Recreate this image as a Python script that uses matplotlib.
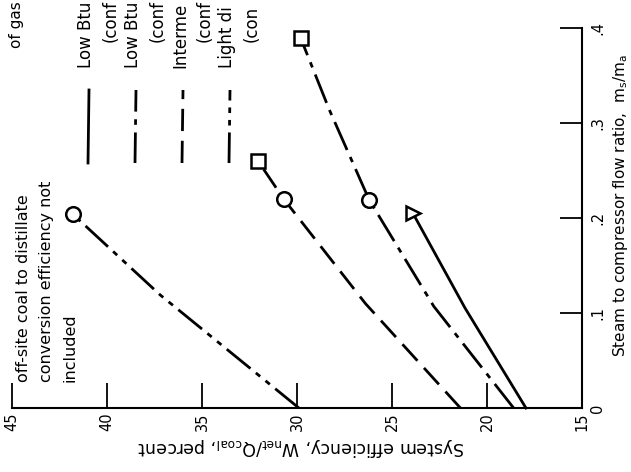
import matplotlib
matplotlib.use("Agg")
import matplotlib.pyplot as plt
from matplotlib.lines import Line2D

# ---------------- data ----------------
# System efficiency (percent) versus steam-to-compressor flow ratio
ratio_lowbtu1 = [0.0, 0.105, 0.205]
eff_lowbtu1 = [17.95, 21.15, 23.9]

ratio_lowbtu2 = [0.0, 0.107, 0.219, 0.314, 0.389]
eff_lowbtu2 = [18.6, 22.8, 26.2, 28.3, 29.8]

ratio_inter = [0.0, 0.110, 0.220, 0.260]
eff_inter = [21.4, 26.4, 30.7, 32.05]

ratio_light = [0.0, 0.119, 0.204]
eff_light = [29.9, 37.2, 41.8]

eff_ticks = [45, 40, 35, 30, 25, 20, 15]
eff_ticklabels = ["45", "40", "35", "30", "25", "20", "15"]
ratio_ticks = [0.0, 0.1, 0.2, 0.3, 0.4]
ratio_ticklabels = ["0", ".1", ".2", ".3", ".4"]

legend_first = ["Low Btu", "Low Btu", "Interme", "Light di"]
legend_second = ["(conf", "(conf", "(conf", "(con"]

note_lines = ["off-site coal to distillate", "conversion efficiency not", "included"]

# ---------------- figure ----------------
W, H, DPI = 631, 472, 100
plt.rcParams["font.family"] = ["DejaVu Sans"]
plt.rcParams["lines.scale_dashes"] = False

fig = plt.figure(figsize=(W / DPI, H / DPI), dpi=DPI)


def fx(x):
    return x / W


def fy(y):
    return 1 - y / H


# axes: efficiency runs horizontally (45 left -> 15 right), ratio vertically
ax_left, ax_right, ax_bottom, ax_top = 12, 582, 408, 28
ax = fig.add_axes([fx(ax_left), fy(ax_bottom),
                   (ax_right - ax_left) / W, (ax_bottom - ax_top) / H])
ax.set_xlim(45, 15)
ax.set_ylim(0, 0.4)
ax.patch.set_alpha(0)

for s in ("top", "left"):
    ax.spines[s].set_visible(False)
for s in ("bottom", "right"):
    ax.spines[s].set_linewidth(1.5)
    ax.spines[s].set_color("black")

ax.yaxis.tick_right()
ax.set_xticks(eff_ticks)
ax.set_xticklabels(eff_ticklabels)
ax.set_yticks(ratio_ticks)
ax.set_yticklabels(ratio_ticklabels)
ax.tick_params(axis="x", direction="in", length=18, width=1.3, pad=3,
               labelsize=10.5, labelrotation=90)
ax.tick_params(axis="y", direction="in", length=16, width=1.3, pad=6,
               labelsize=10.5, labelrotation=90)
for lab in ax.get_yticklabels():
    lab.set_verticalalignment("center")

LW = 2.0
solid = "-"
dashdot = (0, (22, 5.5, 4, 5.5))
dashed = (0, (16, 7))
dashdotdot = (0, (22, 5, 4, 5, 4, 5))

ax.plot(eff_lowbtu1, ratio_lowbtu1, color="black", lw=LW, ls=solid, clip_on=False)
ax.plot(eff_lowbtu2, ratio_lowbtu2, color="black", lw=LW, ls=dashdot, clip_on=False)
ax.plot(eff_inter, ratio_inter, color="black", lw=LW, ls=dashed, clip_on=False)
ax.plot(eff_light, ratio_light, color="black", lw=LW, ls=dashdotdot, clip_on=False)

mk = dict(color="black", mfc="white", mec="black", mew=1.8, ms=10.5,
          ls="none", clip_on=False, zorder=5)
ax.plot([eff_lowbtu1[-1]], [ratio_lowbtu1[-1]], marker=">", **mk)
ax.plot([eff_lowbtu2[2]], [ratio_lowbtu2[2]], marker="o", **mk)
ax.plot([eff_lowbtu2[-1]], [ratio_lowbtu2[-1]], marker="s", **mk)
ax.plot([eff_inter[2]], [ratio_inter[2]], marker="o", **mk)
ax.plot([eff_inter[-1]], [ratio_inter[-1]], marker="s", **mk)
ax.plot([eff_light[-1]], [ratio_light[-1]], marker="o", **mk)

# axis titles (the whole sheet is turned a quarter turn)
fig.text(fx(301), fy(447),
         r"System efficiency, $\mathrm{W_{net}/Q_{coal}}$, percent",
         rotation=180, ha="center", va="center", fontsize=12.5)
fig.text(fx(621), fy(205),
         r"Steam to compressor flow ratio,  $\mathrm{m_s/m_a}$",
         rotation=90, ha="center", va="center", fontsize=11)

# legend (line samples + labels)
legend_styles = [solid, dashdot, dashed, dashdotdot]
legend_x = [88, 135, 182, 229]
for x, st, t1, t2 in zip(legend_x, legend_styles, legend_first, legend_second):
    fig.add_artist(Line2D([fx(x), fx(x + 1)], [fy(163), fy(90)],
                          transform=fig.transFigure, color="black",
                          lw=LW, ls=st))
    fig.text(fx(x - 2), fy(68), t1, rotation=90, ha="center", va="bottom",
             fontsize=12)
    fig.text(fx(x + 23), fy(42), t2, rotation=90, ha="center", va="bottom",
             fontsize=12)

# note text
for i, line in enumerate(note_lines):
    fig.text(fx(24 + 23 * i), fy(382), line, rotation=90, ha="center",
             va="bottom", fontsize=11.5)
fig.text(fx(16), fy(48), "of gas", rotation=90, ha="center", va="bottom",
         fontsize=11)

fig.savefig("out.png", dpi=DPI)
